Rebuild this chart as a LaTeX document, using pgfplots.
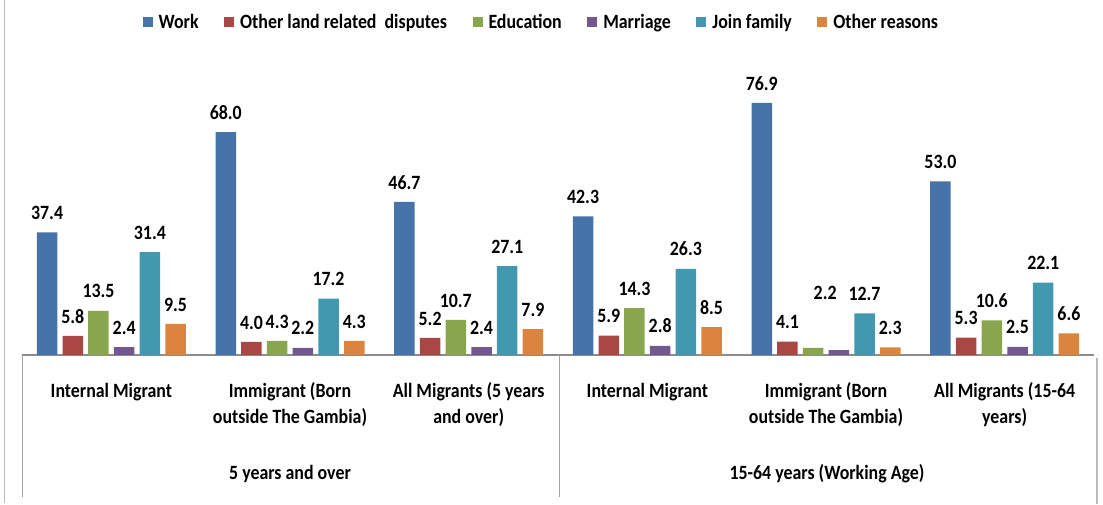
\documentclass[border=0pt]{standalone}
\usepackage{pgfplots}
\pgfplotsset{compat=1.18}
\usepackage{fontspec}
\setmainfont[FakeStretch=0.88]{Carlito}
\definecolor{cwork}{HTML}{4673AA}
\definecolor{cland}{HTML}{AA4643}
\definecolor{cedu}{HTML}{89A54E}
\definecolor{cmar}{HTML}{71588F}
\definecolor{cjoin}{HTML}{4198AF}
\definecolor{coth}{HTML}{DB843D}
\definecolor{cline}{HTML}{8C8C8C}
\begin{document}
\begin{tikzpicture}[font=\fontsize{20.3}{26}\selectfont\bfseries]
\begin{axis}[
  at={(0pt,0pt)}, anchor=south west,
  scale only axis, width=1072pt, height=315pt,
  xmin=-0.5, xmax=5.5, ymin=0, ymax=96.1,
  axis x line=bottom, axis y line=none,
  x axis line style={draw=cline, line width=2pt, -},
  xtick={0,...,5}, xtick style={draw=none},
  xticklabels={Internal Migrant, {Immigrant (Born\\outside The Gambia)}, {All Migrants (5 years\\and over)}, Internal Migrant, {Immigrant (Born\\outside The Gambia)}, {All Migrants (15-64\\years)}},
  xticklabel style={align=center, anchor=north, yshift=-20pt},
  ytick=\empty,
  ybar=5.2pt, bar width=20.5pt,
  clip=false,
  point meta=explicit symbolic,
  nodes near coords,
  every node near coord/.append style={anchor=south, inner sep=2pt, yshift=10.5pt},
  legend columns=6,
  legend style={draw=none, fill=none, at={(0.484,1.057)}, anchor=center,
    nodes={inner sep=1pt},
    /tikz/every odd column/.append style={column sep=5pt},
    /tikz/every even column/.append style={column sep=24.5pt}},
  legend image code/.code={\draw[#1,draw=none] (0pt,-5pt) rectangle (10pt,5pt);},
]
\addplot[fill=cwork, draw=none] table[x=x,y=y,meta=l] {
x y l
0 37.4 37.4
1 68.0 68.0
2 46.7 46.7
3 42.3 42.3
4 76.9 76.9
5 53.0 53.0
};
\addlegendentry{Work}
\addplot[fill=cland, draw=none] table[x=x,y=y,meta=l] {
x y l
0 5.8 5.8
1 4.0 4.0
2 5.2 5.2
3 5.9 5.9
4 4.1 4.1
5 5.3 5.3
};
\addlegendentry{Other land related~ disputes}
\addplot[fill=cedu, draw=none,
  visualization depends on={\thisrow{dx} \as \dx},
  visualization depends on={\thisrow{dy} \as \dy},
  every node near coord/.append style={xshift=\dx, yshift=\dy}] table[x=x,y=y,meta=l] {
x y l dx dy
0 13.5 13.5 0 0
1 4.3 4.3 0 0
2 10.7 10.7 0 0
3 14.3 14.3 0 0
4 2.2 2.2 12 35
5 10.6 10.6 0 0
};
\addlegendentry{Education}
\addplot[fill=cmar, draw=none] table[x=x,y=y,meta=l] {
x y l
0 2.4 2.4
1 2.2 2.2
2 2.4 2.4
3 2.8 2.8
4 1.5 {}
5 2.5 2.5
};
\addlegendentry{Marriage}
\addplot[fill=cjoin, draw=none] table[x=x,y=y,meta=l] {
x y l
0 31.4 31.4
1 17.2 17.2
2 27.1 27.1
3 26.3 26.3
4 12.7 12.7
5 22.1 22.1
};
\addlegendentry{Join family}
\addplot[fill=coth, draw=none] table[x=x,y=y,meta=l] {
x y l
0 9.5 9.5
1 4.3 4.3
2 7.9 7.9
3 8.5 8.5
4 2.3 2.3
5 6.6 6.6
};
\addlegendentry{Other reasons}
\end{axis}
\draw[cline!80, line width=1pt] (0pt,0pt) -- (0pt,-142pt);
\draw[cline!80, line width=1pt] (537pt,0pt) -- (537pt,-142pt);
\draw[cline!60, line width=1.5pt] (1075pt,-3pt) -- (1075pt,-149pt);
\draw[cline!60, line width=1.5pt] (-17.5pt,355pt) -- (-17.5pt,-148pt);
\node at (268pt,-119pt) {5 years and over};
\node at (805pt,-119pt) {15-64 years (Working Age)};
\pgfresetboundingbox
\path (-22pt,-149pt) rectangle (1081pt,355pt);
\end{tikzpicture}
\end{document}
